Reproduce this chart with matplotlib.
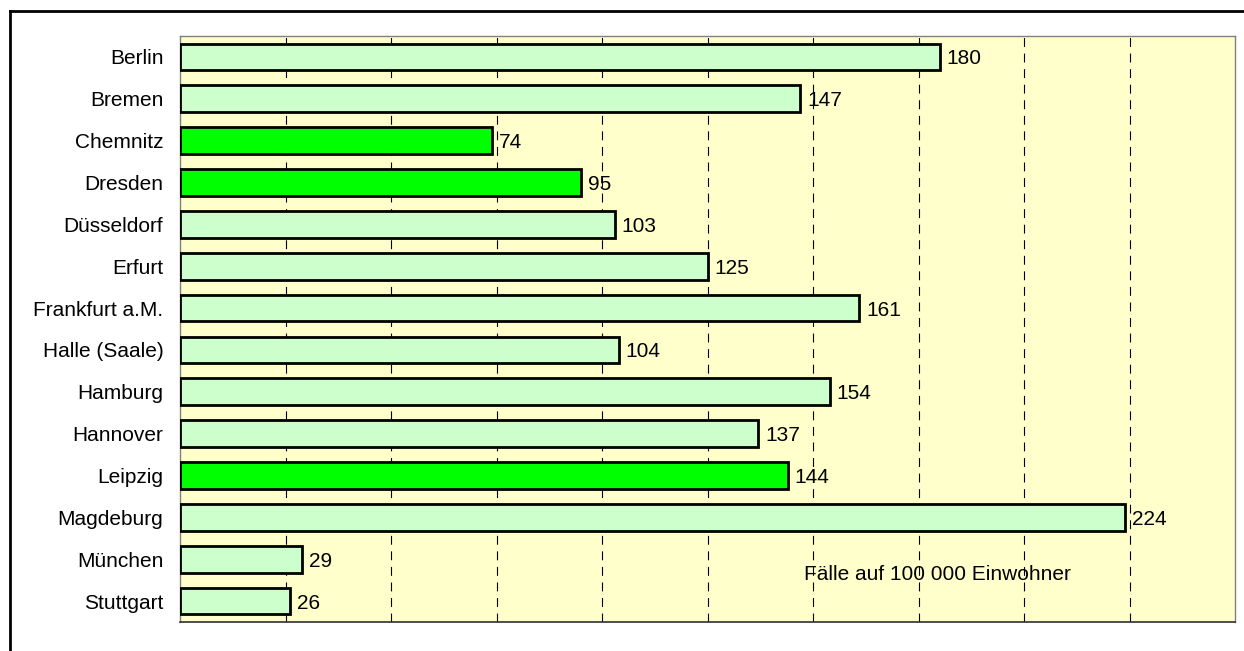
import matplotlib
matplotlib.use("Agg")
import matplotlib.pyplot as plt
from matplotlib.lines import Line2D

plt.rcParams['font.family'] = ['Liberation Sans', 'DejaVu Sans']

# data
cities = ['Berlin', 'Bremen', 'Chemnitz', 'Dresden', 'Düsseldorf', 'Erfurt',
          'Frankfurt a.M.', 'Halle (Saale)', 'Hamburg', 'Hannover', 'Leipzig',
          'Magdeburg', 'München', 'Stuttgart']
cases = [180, 147, 74, 95, 103, 125, 161, 104, 154, 137, 144, 224, 29, 26]
saxony = ['Chemnitz', 'Dresden', 'Leipzig']   # highlighted bars
unit_label = 'Fälle auf 100 000 Einwohner'

light = '#CCFFCC'
bright = '#00FF00'
cols = [bright if c in saxony else light for c in cities]
fs = 15

fig = plt.figure(figsize=(12.44, 6.51), dpi=100)
ax = fig.add_axes([180/1244, 1 - 622/651, 1055/1244, 586/651])
ax.set_facecolor('#FFFFCC')

ypos = list(range(len(cities)))
bars = ax.barh(ypos, cases, height=0.64, color=cols, edgecolor='black',
               linewidth=2, zorder=3)

# value labels right of the bars
for b, v in zip(bars, cases):
    ax.annotate(str(v), (b.get_width(), b.get_y() + b.get_height()/2),
                xytext=(5, 0), textcoords='offset points',
                va='center_baseline', ha='left', fontsize=fs, zorder=4)

ax.set_xlim(0, 250)
ax.set_ylim(len(cities) - 0.5, -0.5)
ax.set_xticks(range(25, 250, 25))
ax.set_xticklabels([])
ax.set_yticks(ypos)
ax.set_yticklabels(cities, fontsize=fs, va='center_baseline')
ax.tick_params(axis='both', length=0)
ax.tick_params(axis='y', pad=12)
ax.xaxis.grid(True, color='black', linestyle=(0, (8, 6)), linewidth=0.8, zorder=1)
ax.set_axisbelow(True)

for s in ['top', 'right', 'left']:
    ax.spines[s].set_color('#808080')
    ax.spines[s].set_linewidth(1)
ax.spines['bottom'].set_color('#303030')
ax.spines['bottom'].set_linewidth(1.2)

ax.text((937 - 180)/1055, (622 - 574)/586, unit_label, transform=ax.transAxes,
        ha='center', va='center', fontsize=fs, zorder=5)

# outer frame (only top and left edge inside the picture)
fx = 10/1244
fy = 1 - 11/651
fig.add_artist(Line2D([fx, 1], [fy, fy], color='black', linewidth=2,
                      transform=fig.transFigure))
fig.add_artist(Line2D([fx, fx], [0, fy], color='black', linewidth=2,
                      transform=fig.transFigure))

fig.savefig('out.png', dpi=100)
